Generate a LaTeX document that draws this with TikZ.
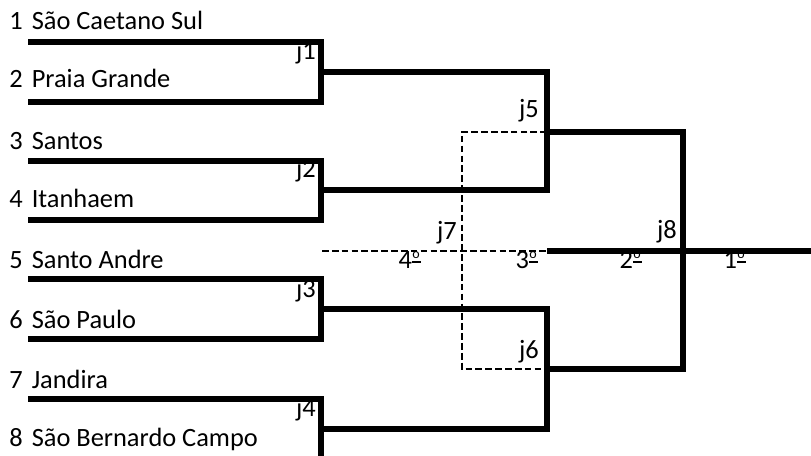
\documentclass[tikz,border=0pt]{standalone}
\usepackage{fontspec}
\setmainfont{Carlito}
\newcommand\ordm{\makebox[7.2pt][l]{\rule[4.1pt]{6.6pt}{1pt}\hspace{-6.2pt}\raisebox{7pt}{\fontsize{10.5}{10.5}\selectfont o}}}
\begin{document}
\begin{tikzpicture}[x=0.75pt,y=-0.75pt,
  txt/.style={inner sep=0pt, font=\fontsize{19.8}{23}\selectfont},
  team/.style={txt, anchor=base west},
  jlab/.style={txt, anchor=base east},
  ord/.style={txt, anchor=base},
  bracket/.style={line width=4.2pt, line join=miter},
  loser/.style={line width=1.9pt, dash pattern=on 5pt off 2.4pt}]
\useasboundingbox (0,0) rectangle (811,456);
\clip (0,0) rectangle (811,456);
% team labels
\foreach \i/\b/\name in {1/30/São Caetano Sul,2/88/Praia Grande,3/150/Santos,4/208/Itanhaem,
  5/268/Santo Andre,6/328/São Paulo,7/388/Jandira,8/446/São Bernardo Campo}{
  \node[team] (n\i) at (9,\b) {\i};
  \node[team] (t\i) at (31.5,\b) {\name};
}
% match labels
\node[jlab] (lj1) at (316,60) {j1};
\node[jlab] (lj2) at (316,178) {j2};
\node[jlab] (lj3) at (316,297) {j3};
\node[jlab] (lj4) at (316,416) {j4};
\node[jlab] (lj5) at (539,118) {j5};
\node[jlab] (lj6) at (539,358) {j6};
\node[jlab] (lj7) at (457,240) {j7};
\node[jlab] (lj8) at (677,239) {j8};
% places
\node[ord] (p4) at (410,268) {4\ordm};
\node[ord] (p3) at (527,268) {3\ordm};
\node[ord] (p2) at (631,268) {2\ordm};
\node[ord] (p1) at (735,268) {1\ordm};
% coordinates
\foreach \i/\y in {1/42,2/102,3/161,4/220,5/279,6/339,7/399,8/460}{
  \coordinate (s\i) at (28,\y);
  \coordinate (e\i) at (321,\y);
}
\coordinate (j1) at (321,72);
\coordinate (j2) at (321,190);
\coordinate (j3) at (321,309);
\coordinate (j4) at (321,429);
\coordinate (j5a) at (547,72);
\coordinate (j5b) at (547,190);
\coordinate (j6a) at (547,309);
\coordinate (j6b) at (547,429);
\coordinate (j5) at (547,132);
\coordinate (j6) at (547,369);
\coordinate (j8a) at (683,132);
\coordinate (j8b) at (683,369);
\coordinate (f3) at (547,251);
\coordinate (fin) at (811,251);
\coordinate (f4) at (322,251);
\coordinate (j7t) at (462,132);
\coordinate (j7b) at (462,369);
% dashed third-place match
\draw[loser] (j5) -- (j7t) -- (j7b) -- (j6);
\draw[loser] (f4) -- (f3);
% first round
\draw[bracket] (s1) -- (e1) -- (e2) -- (s2);
\draw[bracket] (s3) -- (e3) -- (e4) -- (s4);
\draw[bracket] (s5) -- (e5) -- (e6) -- (s6);
\draw[bracket] (s7) -- (e7) -- (e8) -- (s8);
% semifinals
\draw[bracket] (j1) -- (j5a) -- (j5b) -- (j2);
\draw[bracket] (j3) -- (j6a) -- (j6b) -- (j4);
% final
\draw[bracket] (j5) -- (j8a) -- (j8b) -- (j6);
\draw[bracket] (f3) -- (fin);
\end{tikzpicture}
\end{document}
